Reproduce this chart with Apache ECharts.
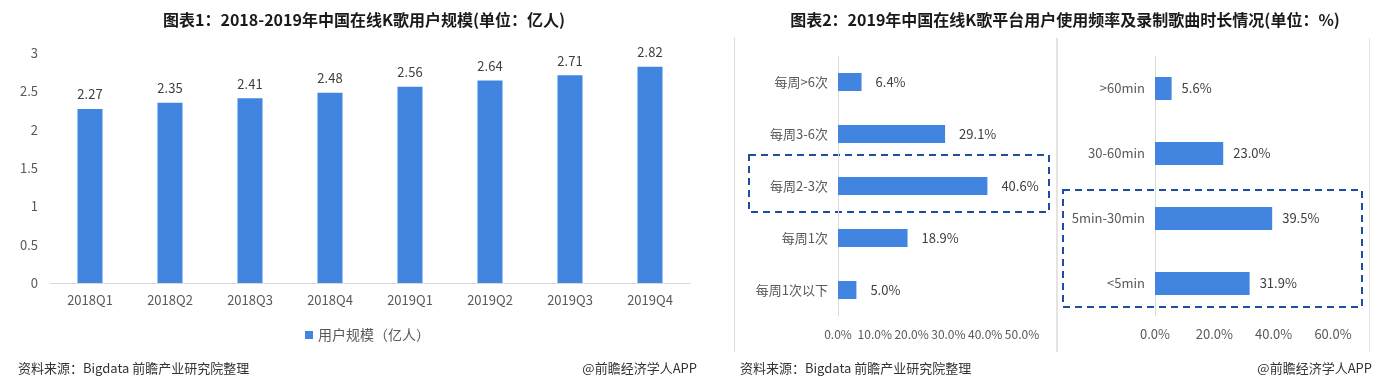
<!DOCTYPE html>
<html>
<head>
<meta charset="utf-8">
<script src="https://cdn.jsdelivr.net/npm/echarts@6/dist/echarts.min.js"></script>
<style>
html,body{margin:0;padding:0;background:#fff;}
#c{width:1374px;height:387px;}
</style>
</head>
<body>
<div id="c"></div>
<script>
// ---- data ----
const quarters = ['2018Q1','2018Q2','2018Q3','2018Q4','2019Q1','2019Q2','2019Q3','2019Q4'];
const users = [2.27, 2.35, 2.41, 2.48, 2.56, 2.64, 2.71, 2.82];
const userTicks = [0, 0.5, 1, 1.5, 2, 2.5, 3];

const freqCats = ['每周>6次','每周3-6次','每周2-3次','每周1次','每周1次以下'];
const freqVals = [6.4, 29.1, 40.6, 18.9, 5.0];

const durCats = ['>60min','30-60min','5min-30min','<5min'];
const durVals = [5.6, 23.0, 39.5, 31.9];

const title1 = '图表1：2018-2019年中国在线K歌用户规模(单位：亿人)';
const title2 = '图表2：2019年中国在线K歌平台用户使用频率及录制歌曲时长情况(单位：%)';
const legendName = '用户规模（亿人）';
const sourceText = '资料来源：Bigdata 前瞻产业研究院整理';
const brandText = '@前瞻经济学人APP';

// ---- styles ----
const FONT = '"Noto Sans CJK SC", "Noto Sans", sans-serif';
const BAR = '#4285E0';
const AX = '#595959';
const LBL = '#404040';
const BOX = '#1F4E9E';
const pct = v => v.toFixed(1) + '%';

const chart = echarts.init(document.getElementById('c'), null, {renderer: 'canvas'});

const catAxisRight = (idx, cats) => ({
  type: 'category', gridIndex: idx, data: cats, inverse: true,
  axisLine: {show: true, lineStyle: {color: '#d9d9d9'}},
  axisTick: {show: false},
  axisLabel: {color: AX, fontSize: 13, fontFamily: FONT, margin: 10}
});

const option = {
  animation: false,
  textStyle: {fontFamily: FONT},
  title: [
    {text: title1, left: 359, top: 7, textAlign: 'center',
     textStyle: {fontSize: 16, fontWeight: 'bold', color: '#1a1a1a', fontFamily: FONT}},
    {text: title2, left: 1060, top: 7, textAlign: 'center',
     textStyle: {fontSize: 16, fontWeight: 'bold', color: '#1a1a1a', fontFamily: FONT}}
  ],
  legend: {
    data: [legendName], left: 300, top: 323,
    icon: 'rect', itemWidth: 8, itemHeight: 8, itemGap: 4,
    textStyle: {color: AX, fontSize: 14, fontFamily: FONT}
  },
  grid: [
    {left: 50, right: 684, top: 53, bottom: 104},
    {left: 838, right: 352, top: 56, bottom: 71},
    {left: 1155, right: 41, top: 56, bottom: 71}
  ],
  xAxis: [
    {type: 'category', gridIndex: 0, data: quarters,
     axisLine: {lineStyle: {color: '#d9d9d9'}}, axisTick: {show: false},
     axisLabel: {color: AX, fontSize: 13, fontFamily: FONT, margin: 11}},
    {type: 'value', gridIndex: 1, min: 0, max: 50, interval: 10,
     axisLine: {show: false}, axisTick: {show: false}, splitLine: {show: false},
     axisLabel: {color: AX, fontSize: 12, fontFamily: FONT, margin: 12, formatter: pct,
                 showMinLabel: true, showMaxLabel: true, hideOverlap: false}},
    {type: 'value', gridIndex: 2, min: 0, max: 60, interval: 20,
     axisLine: {show: false}, axisTick: {show: false}, splitLine: {show: false},
     axisLabel: {color: AX, fontSize: 13, fontFamily: FONT, margin: 12, formatter: pct,
                 showMinLabel: true, showMaxLabel: true}}
  ],
  yAxis: [
    {type: 'value', gridIndex: 0, min: userTicks[0], max: userTicks[userTicks.length - 1], interval: 0.5,
     axisLine: {show: false}, axisTick: {show: false}, splitLine: {show: false},
     axisLabel: {color: AX, fontSize: 13, fontFamily: FONT, margin: 12}},
    catAxisRight(1, freqCats),
    catAxisRight(2, durCats)
  ],
  series: [
    {name: legendName, type: 'bar', xAxisIndex: 0, yAxisIndex: 0, data: users,
     barWidth: 25, itemStyle: {color: BAR},
     label: {show: true, position: 'top', distance: 8, color: LBL, fontSize: 13, fontFamily: FONT}},
    {name: 'freq', type: 'bar', xAxisIndex: 1, yAxisIndex: 1, data: freqVals,
     barWidth: 18, itemStyle: {color: BAR},
     label: {show: true, position: 'right', distance: 14, color: LBL, fontSize: 13, fontFamily: FONT, formatter: p => pct(p.value)}},
    {name: 'dur', type: 'bar', xAxisIndex: 2, yAxisIndex: 2, data: durVals,
     barWidth: 23, itemStyle: {color: BAR},
     label: {show: true, position: 'right', distance: 10, color: LBL, fontSize: 13, fontFamily: FONT, formatter: p => pct(p.value)}}
  ],
  graphic: [
    // panel separators
    {type: 'line', shape: {x1: 734.5, y1: 38, x2: 734.5, y2: 352}, style: {stroke: '#d9d9d9', lineWidth: 1}},
    {type: 'line', shape: {x1: 1057, y1: 38, x2: 1057, y2: 352}, style: {stroke: '#e3e3e3', lineWidth: 2}},
    {type: 'line', shape: {x1: 1369.5, y1: 38, x2: 1369.5, y2: 352}, style: {stroke: '#e3e3e3', lineWidth: 1}},
    // highlight boxes
    {type: 'rect', shape: {x: 749, y: 155, width: 300, height: 57},
     style: {fill: 'none', stroke: BOX, lineWidth: 2, lineDash: [7, 5]}},
    {type: 'rect', shape: {x: 1063, y: 190, width: 299, height: 117},
     style: {fill: 'none', stroke: BOX, lineWidth: 2, lineDash: [7, 5]}},
    // footers
    {type: 'text', left: 18, top: 362, style: {text: sourceText, fill: '#333', font: '13px ' + FONT}},
    {type: 'text', right: 677, top: 362, style: {text: brandText, fill: '#333', font: '13px ' + FONT}},
    {type: 'text', left: 740, top: 362, style: {text: sourceText, fill: '#333', font: '13px ' + FONT}},
    {type: 'text', right: 2, top: 362, style: {text: brandText, fill: '#333', font: '13px ' + FONT}}
  ]
};
chart.setOption(option);
</script>
</body>
</html>
